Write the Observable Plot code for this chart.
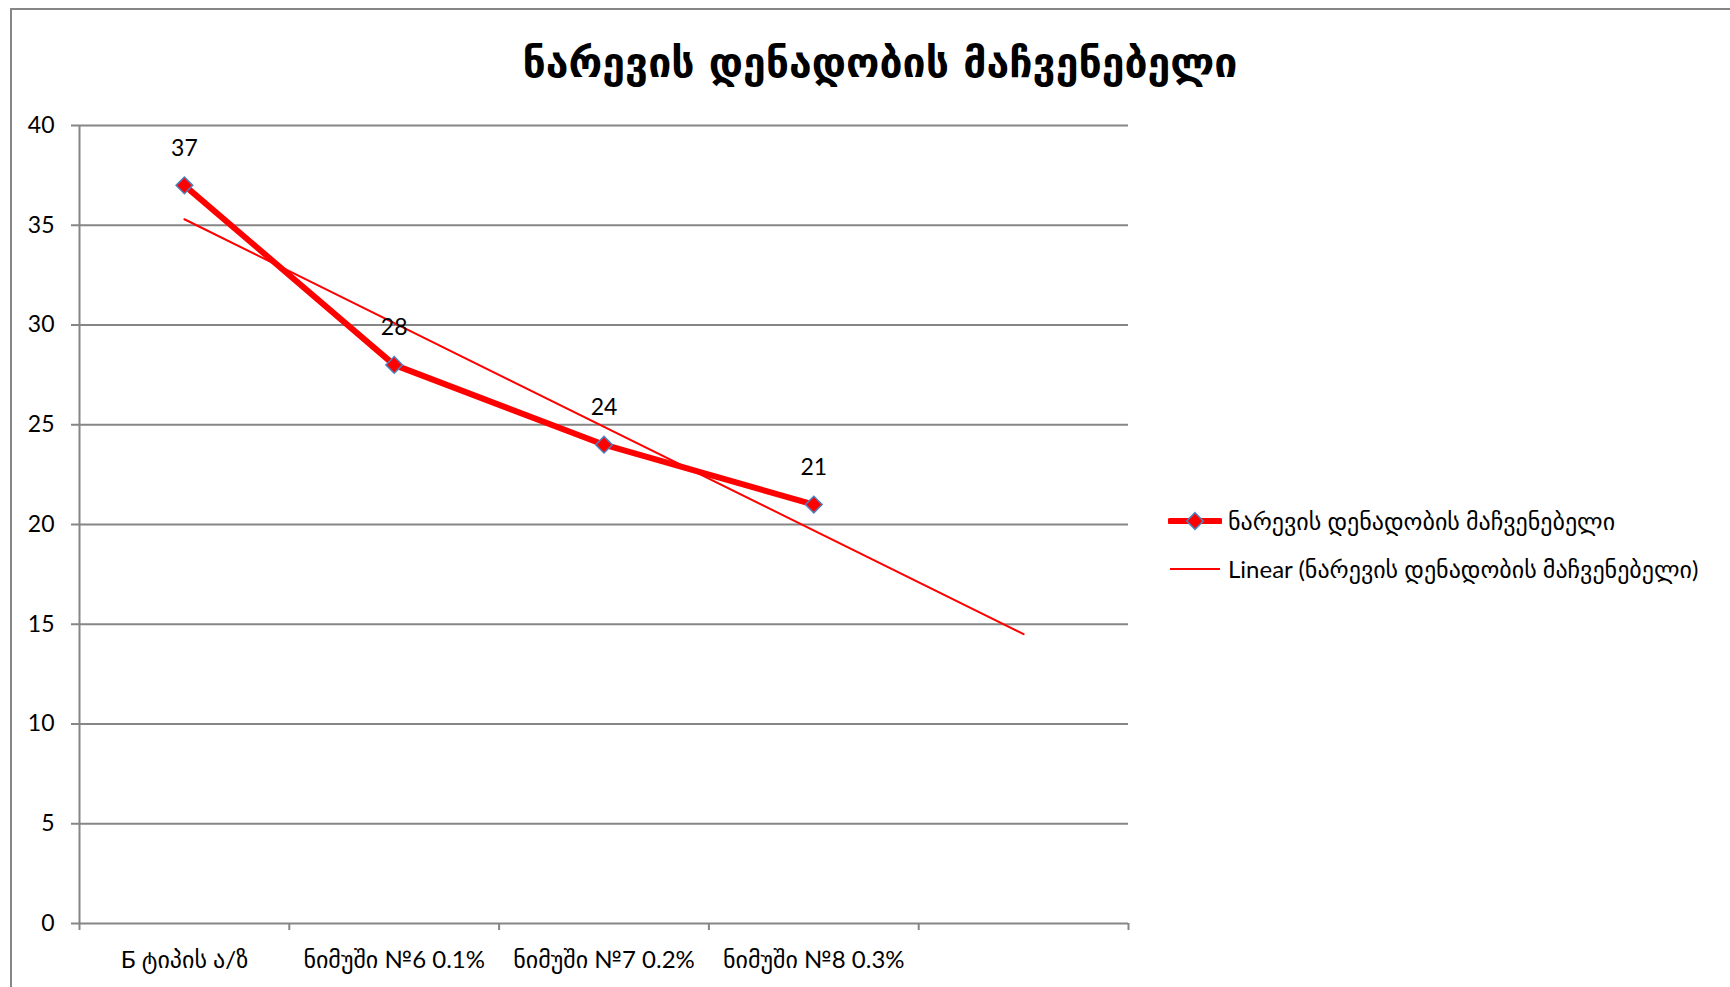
<!DOCTYPE html>
<html>
<head>
<meta charset="utf-8">
<script src="https://cdn.jsdelivr.net/npm/d3@7"></script>
<script src="https://cdn.jsdelivr.net/npm/@observablehq/plot@0.6"></script>
<style>
  html, body { margin: 0; padding: 0; background: #fff; }
  #page { position: relative; width: 1730px; height: 987px; overflow: hidden; background: #fff;
          font-family: Lato, "DejaVu Sans", sans-serif; color: #000; }
  #frame { position: absolute; left: 10px; top: 8px; width: 1800px; height: 1100px;
           border: 2px solid #868686; box-sizing: border-box; }
  #title { position: absolute; left: 0; top: 36px; width: 1760px; text-align: center;
           font-family: "DejaVu Sans", sans-serif; font-weight: bold; font-size: 41px; line-height: 54px; }
  #chart { position: absolute; left: 0; top: 94px; }
  .legend-item { position: absolute; left: 1168px; display: flex; align-items: center;
                 font-family: Lato, "DejaVu Sans", sans-serif; font-size: 24px; white-space: nowrap; }
  .legend-item svg { margin-right: 6px; }
</style>
</head>
<body>
<div id="page">
  <div id="frame"></div>
  <div id="title"></div>
  <div id="chart"></div>
  <div id="legend"></div>
</div>
<script>
// Flow index of the mixes
const seriesName = "ნარევის დენადობის მაჩვენებელი";
const trendName = "Linear (ნარევის დენადობის მაჩვენებელი)";
const categories = ["Б ტიპის ა/ზ", "ნიმუში №6 0.1%", "ნიმუში №7 0.2%", "ნიმუში №8 0.3%"];
const values = [37, 28, 24, 21];
// Linear trend, forecast one period forward (start and end values)
const trendPositions = [1, 5];
const trendValues = [35.3, 14.5];
const yTicks = [0, 5, 10, 15, 20, 25, 30, 35, 40];
const xBoundaries = [0.5, 1.5, 2.5, 3.5, 4.5, 5.5];

const red = "#FF0000";
const markerStroke = "#4F81BD";
const gray = "#868686";

document.getElementById("title").textContent = seriesName;

const points = categories.map((c, i) => ({pos: i + 1, category: c, value: values[i]}));
const trend = trendPositions.map((p, i) => ({pos: p, value: trendValues[i]}));

const chart = Plot.plot({
  width: 1730,
  height: 893,
  marginLeft: 79,
  marginRight: 602,
  marginTop: 31,
  marginBottom: 64,
  x: {domain: [0.5, 5.5], axis: null},
  y: {domain: [0, 40], axis: null},
  style: {fontFamily: 'Lato, "DejaVu Sans", sans-serif', fontSize: "23px", color: "#000", background: "transparent", overflow: "visible"},
  marks: [
    Plot.gridY(yTicks, {stroke: gray, strokeOpacity: 1, strokeWidth: 2}),
    Plot.axisY(yTicks, {tickSize: 8, tickPadding: 17, stroke: gray, strokeWidth: 2, fill: "#000", fontSize: 23, label: null}),
    Plot.ruleX([0.5], {stroke: gray, strokeWidth: 2}),
    Plot.axisX(xBoundaries, {tickSize: 7, tickFormat: () => "", stroke: gray, strokeWidth: 2, label: null}),
    Plot.axisX([1, 2, 3, 4], {tickSize: 0, tickPadding: 27, tickFormat: d => categories[d - 1], fill: "#000", fontSize: 24, label: null}),
    Plot.line(trend, {x: "pos", y: "value", stroke: red, strokeWidth: 2}),
    Plot.line(points, {x: "pos", y: "value", stroke: red, strokeWidth: 6, strokeLinejoin: "round"}),
    Plot.dot(points, {x: "pos", y: "value", symbol: "diamond2", r: 7.5, fill: red, stroke: markerStroke, strokeWidth: 1.5}),
    Plot.text(points, {x: "pos", y: "value", text: d => String(d.value), dy: -37, fill: "#000", fontSize: 23})
  ]
});
document.getElementById("chart").appendChild(chart);

// Legend: series line with marker, then the trendline
const legend = document.getElementById("legend");
function legendItem(top, label, thick) {
  const item = document.createElement("div");
  item.className = "legend-item";
  item.style.top = top + "px";
  const svg = d3.create("svg").attr("width", 54).attr("height", 20);
  svg.append("line").attr("x1", 2).attr("x2", 52).attr("y1", 10).attr("y2", 10)
    .attr("stroke", red).attr("stroke-width", thick ? 6 : 2).attr("stroke-linecap", thick ? "round" : "butt");
  if (thick) {
    svg.append("path").attr("d", d3.symbol(d3.symbolDiamond2, Math.PI * 7.5 * 7.5)())
      .attr("transform", "translate(27,10)")
      .attr("fill", red).attr("stroke", markerStroke).attr("stroke-width", 1.5);
  }
  item.appendChild(svg.node());
  const span = document.createElement("span");
  span.textContent = label;
  item.appendChild(span);
  legend.appendChild(item);
}
legendItem(506, seriesName, true);
legendItem(554, trendName, false);
</script>
</body>
</html>
